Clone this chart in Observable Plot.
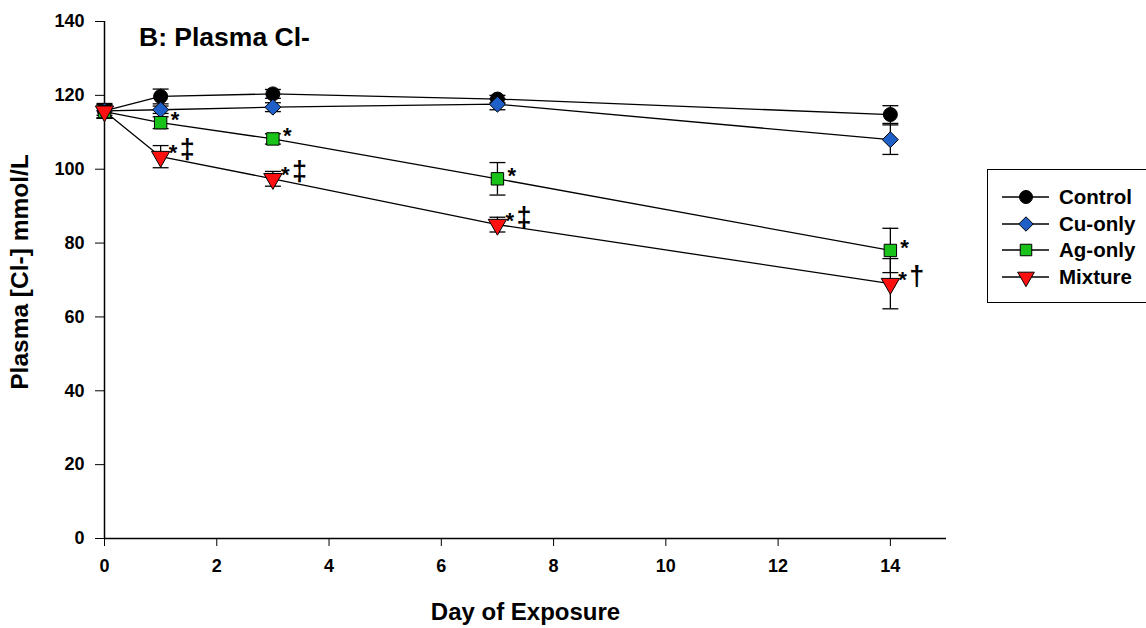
<!DOCTYPE html>
<html>
<head>
<meta charset="utf-8">
<script src="https://cdn.jsdelivr.net/npm/d3@7"></script>
<script src="https://cdn.jsdelivr.net/npm/@observablehq/plot@0.6"></script>
<style>
  html, body { margin: 0; padding: 0; background: #fff; }
  #wrap { position: relative; width: 1146px; height: 628px; overflow: hidden; font-family: "Liberation Sans", Arial, sans-serif; }
  #legend { position: absolute; left: 987px; top: 169px; width: 200px; height: 134px; border: 1px solid #000; box-sizing: border-box; }
  #title { position: absolute; left: 139px; top: 22px; font-size: 26.5px; font-weight: bold; line-height: 1.15; }
</style>
</head>
<body>
<div id="wrap"><div id="chart"></div><div id="title"></div><div id="legend"></div></div>
<script>
const days = [0, 1, 3, 7, 14];
const seriesNames = ["Control", "Cu-only", "Ag-only", "Mixture"];
const seriesColors = ["#000000", "#1f5fc8", "#19c319", "#ff1010"];
const seriesSymbols = ["circle", "diamond2", "square", "triangle"];
const seriesRotate = [0, 0, 0, 180];
const control = [115.8, 119.7, 120.4, 119.0, 114.8];
const controlErr = [2.0, 2.0, 1.2, 1.0, 2.4];
const cuOnly = [115.8, 116.1, 116.8, 117.6, 108.0];
const cuOnlyErr = [1.2, 1.0, 1.2, 1.5, 4.0];
const agOnly = [115.6, 112.6, 108.2, 97.4, 78.0];
const agOnlyErr = [1.8, 1.6, 1.4, 4.4, 6.0];
const mixture = [115.7, 103.4, 97.4, 85.0, 69.0];
const mixtureErr = [1.8, 3.0, 2.0, 2.0, 6.8];
const agMarks = ["", "*", "*", "*", "*"];
const mixStars = ["", "*", "*", "*", "*"];
const mixDaggers = ["", "‡", "‡", "‡", "†"];
const xTicks = [0, 2, 4, 6, 8, 10, 12, 14];
const yTicks = [0, 20, 40, 60, 80, 100, 120, 140];
const titleText = "B: Plasma Cl-";
const xLabel = "Day of Exposure";
const yLabel = "Plasma [Cl-] mmol/L";

const values = [control, cuOnly, agOnly, mixture];
const errs = [controlErr, cuOnlyErr, agOnlyErr, mixtureErr];
const rows = [];
seriesNames.forEach((s, i) => days.forEach((d, j) => rows.push({
  series: s, idx: i, day: d, value: values[i][j], lo: values[i][j] - errs[i][j], hi: values[i][j] + errs[i][j]
})));
const annAg = days.map((d, j) => ({day: d, value: agOnly[j], t: agMarks[j]})).filter(r => r.t);
const annMixS = days.map((d, j) => ({day: d, value: mixture[j], t: mixStars[j]})).filter(r => r.t);
const annMixD = days.map((d, j) => ({day: d, value: mixture[j], t: mixDaggers[j]})).filter(r => r.t);

const capSymbol = { draw(ctx, size) { const w = Math.sqrt(size) / 2; ctx.moveTo(-w, 0); ctx.lineTo(w, 0); } };

const marks = [
  Plot.ruleX([0], {stroke: "#000", strokeWidth: 1.5})
];
seriesNames.forEach((s, i) => {
  marks.push(Plot.line(rows.filter(r => r.idx === i), {x: "day", y: "value", stroke: "#000", strokeWidth: 1.3}));
});
seriesNames.forEach((s, i) => {
  const data = rows.filter(r => r.idx === i);
  marks.push(Plot.ruleX(data, {x: "day", y1: "lo", y2: "hi", stroke: "#000", strokeWidth: 1.3}));
  marks.push(Plot.dot(data, {x: "day", y: "lo", symbol: capSymbol, r: 9, stroke: "#000", strokeWidth: 1.3}));
  marks.push(Plot.dot(data, {x: "day", y: "hi", symbol: capSymbol, r: 9, stroke: "#000", strokeWidth: 1.3}));
});
seriesNames.forEach((s, i) => {
  const data = rows.filter(r => r.idx === i);
  marks.push(Plot.dot(data, {x: "day", y: "value", symbol: seriesSymbols[i], rotate: seriesRotate[i],
    r: i === 1 ? 7.2 : (i === 3 ? 6.8 : 7), fill: seriesColors[i], stroke: "#000", strokeWidth: 1}));
});
marks.push(Plot.text(annAg, {x: "day", y: "value", text: "t", dx: 10, dy: -3, textAnchor: "start", fontSize: 22, fontWeight: "bold"}));
marks.push(Plot.text(annMixS, {x: "day", y: "value", text: "t", dx: 8, dy: -4, textAnchor: "start", fontSize: 22, fontWeight: "bold"}));
marks.push(Plot.text(annMixD, {x: "day", y: "value", text: "t", dx: 19, dy: -7, textAnchor: "start", fontSize: 27, fontWeight: "bold"}));

const chart = Plot.plot({
  width: 1146, height: 628,
  marginLeft: 104, marginTop: 21, marginBottom: 90, marginRight: 200,
  style: {fontFamily: "'Liberation Sans', Arial, sans-serif", background: "#fff", overflow: "visible"},
  x: {domain: [0, 15], label: null},
  y: {domain: [0, 140], label: null},
  marks: [
    ...marks,
    Plot.axisX({ticks: xTicks, tickSize: 8, tickPadding: 13, fontSize: 18, fontWeight: "bold", label: null}),
    Plot.axisY({ticks: yTicks, tickSize: 9, tickPadding: 11, fontSize: 18, fontWeight: "bold", label: null}),
    Plot.ruleY([0], {stroke: "#000", strokeWidth: 1.5}),
    Plot.text([xLabel], {frameAnchor: "bottom", dy: 81, fontSize: 24, fontWeight: "bold"}),
    Plot.text([yLabel], {frameAnchor: "left", textAnchor: "middle", dx: -84, dy: -8, rotate: -90, fontSize: 24.5, fontWeight: "bold"})
  ]
});
document.getElementById("chart").appendChild(chart);
document.getElementById("title").textContent = titleText;

const lg = d3.select("#legend");
seriesNames.forEach((s, i) => {
  const row = lg.append("div").style("position", "absolute").style("left", "0px").style("top", (14 + i * 26.7) + "px")
    .style("height", "26px").style("display", "flex").style("align-items", "center");
  const svg = row.append("svg").attr("width", 71).attr("height", 26);
  svg.append("line").attr("x1", 14).attr("x2", 61).attr("y1", 13).attr("y2", 13).attr("stroke", "#000").attr("stroke-width", 1.3);
  const sym = {circle: d3.symbolCircle, diamond2: d3.symbolDiamond2, square: d3.symbolSquare, triangle: d3.symbolTriangle}[seriesSymbols[i]];
  const size = Math.PI * (i === 3 ? 6.2 : 6.5) ** 2;
  svg.append("path").attr("d", d3.symbol(sym, size)()).attr("transform", `translate(38,13) rotate(${seriesRotate[i]})`)
    .attr("fill", seriesColors[i]).attr("stroke", "#000").attr("stroke-width", 1);
  row.append("span").text(s).style("font-size", "20.5px").style("font-weight", "bold");
});
</script>
</body>
</html>
